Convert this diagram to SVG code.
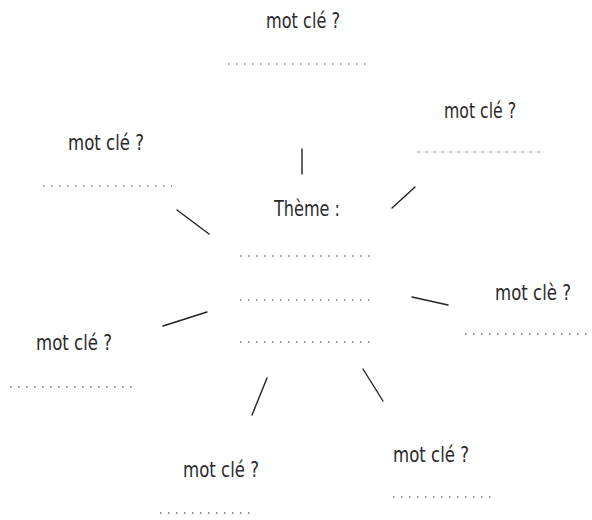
<svg xmlns="http://www.w3.org/2000/svg" width="592" height="520" viewBox="0 0 592 520">
<style>
text{font-family:"DejaVu Sans Condensed","DejaVu Sans",sans-serif;font-size:21px;fill:#2a2a2a}
.dots{stroke:#777;stroke-width:1.3;stroke-dasharray:1.5 6.5}
.con{stroke:#222;stroke-width:1.4;stroke-linecap:round;fill:none}
</style>
<rect width="592" height="520" fill="#fff"/>
<g id="connectors">
<line class="con" x1="302" y1="149" x2="302" y2="174"/>
<line class="con" x1="392" y1="208" x2="415" y2="187"/>
<line class="con" x1="177" y1="210" x2="209" y2="234"/>
<line class="con" x1="412" y1="297" x2="448" y2="305"/>
<line class="con" x1="163" y1="326" x2="207" y2="312"/>
<line class="con" x1="252" y1="415" x2="267" y2="378"/>
<line class="con" x1="363" y1="369" x2="383" y2="401"/>
</g>
<g id="theme">
<text x="307" y="216" text-anchor="middle" textLength="66" lengthAdjust="spacingAndGlyphs">Thème :</text>
<line class="dots" x1="240" y1="256" x2="376" y2="256"/>
<line class="dots" x1="240" y1="300" x2="376" y2="300"/>
<line class="dots" x1="240" y1="342" x2="376" y2="342"/>
</g>
<g id="kw-top">
<text x="303" y="28" text-anchor="middle" textLength="74" lengthAdjust="spacingAndGlyphs">mot clé ?</text>
<line class="dots" x1="228" y1="64" x2="368" y2="64"/>
</g>
<g id="kw-topright">
<text x="480" y="118" text-anchor="middle" textLength="72" lengthAdjust="spacingAndGlyphs">mot clé ?</text>
<line class="dots" x1="418" y1="152" x2="545" y2="152"/>
</g>
<g id="kw-left">
<text x="106" y="150" text-anchor="middle" textLength="76" lengthAdjust="spacingAndGlyphs">mot clé ?</text>
<line class="dots" x1="43" y1="186" x2="172" y2="186"/>
</g>
<g id="kw-right">
<text x="533" y="300" text-anchor="middle" textLength="76" lengthAdjust="spacingAndGlyphs">mot clè ?</text>
<line class="dots" x1="465" y1="334" x2="590" y2="334"/>
</g>
<g id="kw-leftlower">
<text x="74" y="350" text-anchor="middle" textLength="76" lengthAdjust="spacingAndGlyphs">mot clé ?</text>
<line class="dots" x1="10" y1="387" x2="137" y2="387"/>
</g>
<g id="kw-bottomleft">
<text x="221" y="477" text-anchor="middle" textLength="76" lengthAdjust="spacingAndGlyphs">mot clé ?</text>
<line class="dots" x1="160" y1="513" x2="256" y2="513"/>
</g>
<g id="kw-bottomright">
<text x="431" y="462" text-anchor="middle" textLength="76" lengthAdjust="spacingAndGlyphs">mot clé ?</text>
<line class="dots" x1="393" y1="497" x2="497" y2="497"/>
</g>
</svg>
